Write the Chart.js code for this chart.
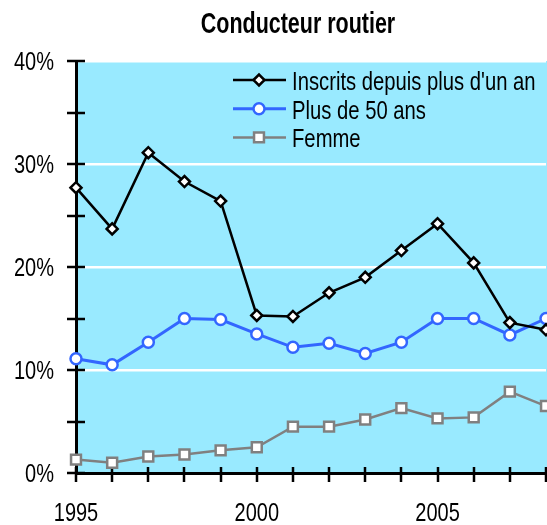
<!DOCTYPE html>
<html>
<head>
<meta charset="utf-8">
<script src="https://cdn.jsdelivr.net/npm/chart.js@4/dist/chart.umd.min.js"></script>
<style>
  html, body { margin: 0; padding: 0; background: #fff; overflow: hidden; }
  #wrap { width: 547px; height: 525px; }
</style>
</head>
<body>
<div id="wrap"><canvas id="graphique"></canvas></div>
<script>
// ---- données ----
const annees = [1995, 1996, 1997, 1998, 1999, 2000, 2001, 2002, 2003, 2004, 2005, 2006, 2007, 2008];
const inscrits = [27.7, 23.7, 31.1, 28.3, 26.4, 15.3, 15.2, 17.5, 19.0, 21.6, 24.2, 20.4, 14.6, 13.9];
const plus50 = [11.1, 10.5, 12.7, 15.0, 14.9, 13.5, 12.2, 12.6, 11.6, 12.7, 15.0, 15.0, 13.4, 15.0];
const femme = [1.3, 1.0, 1.6, 1.8, 2.2, 2.5, 4.5, 4.5, 5.2, 6.3, 5.3, 5.4, 7.9, 6.5];
const series = ["Inscrits depuis plus d'un an", "Plus de 50 ans", "Femme"];
const titre = "Conducteur routier";
const yMin = 0, yMax = 40, yPas = 5;

// police étroite : Liberation Sans compressée horizontalement
const POLICE = "'Liberation Sans', Arial, sans-serif";
const FOND = "#99eaff";

const etiquetteX = v => (v % 5 === 0 ? String(v) : "");
const etiquetteY = v => (v % 10 === 0 ? v + "%" : "");

function pts(valeurs) {
  return annees.map((a, i) => ({ x: a, y: valeurs[i] }));
}

function texte(ctx, str, x, y, align, font, sx) {
  ctx.save();
  ctx.translate(x, y);
  ctx.scale(sx, 1);
  ctx.font = font;
  ctx.textAlign = align;
  ctx.textBaseline = "alphabetic";
  ctx.fillText(str, 0, 0);
  ctx.restore();
}

// fond bleu de la zone de tracé
const fondPlugin = {
  id: "fond",
  beforeDraw(chart) {
    const { ctx, chartArea: a } = chart;
    ctx.save();
    ctx.fillStyle = FOND;
    ctx.fillRect(a.left, a.top, a.right - a.left + 2, a.bottom - a.top);
    ctx.restore();
  }
};

// graduations qui traversent les axes + étiquettes
const tiretsPlugin = {
  id: "tirets",
  beforeDatasetsDraw(chart) {
    const { ctx, scales } = chart;
    const x = scales.x, y = scales.y;
    ctx.save();
    ctx.strokeStyle = "#000";
    ctx.lineWidth = 2.5;
    ctx.beginPath();
    y.ticks.forEach(t => {
      const py = Math.round(y.getPixelForValue(t.value));
      ctx.moveTo(x.left - 9, py);
      ctx.lineTo(x.left + 9, py);
    });
    x.ticks.forEach(t => {
      const px = Math.round(x.getPixelForValue(t.value));
      ctx.moveTo(px, y.bottom - 6);
      ctx.lineTo(px, y.bottom + 9);
    });
    ctx.stroke();

    ctx.fillStyle = "#000";
    const f = "25px " + POLICE;
    y.ticks.forEach(t => {
      const s = etiquetteY(t.value);
      if (s) texte(ctx, s, x.left - 22, y.getPixelForValue(t.value) + 9, "right", f, 0.8);
    });
    x.ticks.forEach(t => {
      const s = etiquetteX(t.value);
      if (s) texte(ctx, s, x.getPixelForValue(t.value), y.bottom + 48, "center", f, 0.8);
    });
    ctx.restore();
  }
};

// titre et légende
const textesPlugin = {
  id: "textes",
  afterDraw(chart) {
    const { ctx } = chart;
    ctx.save();
    ctx.fillStyle = "#000";
    texte(ctx, titre, 298, 33, "center", "bold 29px " + POLICE, 0.74);

    chart.data.datasets.forEach((ds, i) => {
      const yy = 80 + i * 28.7;
      ctx.strokeStyle = ds.borderColor;
      ctx.lineWidth = ds.borderWidth;
      ctx.beginPath();
      ctx.moveTo(233, yy);
      ctx.lineTo(286, yy);
      ctx.stroke();
      ctx.fillStyle = ds.pointBackgroundColor;
      ctx.strokeStyle = ds.pointBorderColor;
      ctx.lineWidth = ds.pointBorderWidth;
      Chart.helpers.drawPoint(ctx, {
        pointStyle: ds.pointStyle,
        radius: ds.pointRadius,
        rotation: 0,
        borderWidth: ds.pointBorderWidth
      }, 259, yy);
      ctx.fillStyle = "#000";
      texte(ctx, ds.label, 292, yy + 10, "left", "25px " + POLICE, 0.81);
    });
    ctx.restore();
  }
};

function serie(label, valeurs, couleur, style, rayon, epaisseur) {
  return {
    label: label,
    data: pts(valeurs),
    borderColor: couleur,
    borderWidth: epaisseur,
    pointStyle: style,
    pointRadius: rayon,
    pointBackgroundColor: "#fff",
    pointBorderColor: couleur,
    pointBorderWidth: 2.5,
    tension: 0,
    clip: false
  };
}

new Chart(document.getElementById("graphique"), {
  type: "line",
  data: {
    datasets: [
      serie(series[0], inscrits, "#000000", "rectRot", 5.5, 2.5),
      serie(series[1], plus50, "#3366ff", "circle", 5.5, 3),
      serie(series[2], femme, "#808080", "rect", 7, 2.5)
    ]
  },
  options: {
    responsive: true,
    maintainAspectRatio: false,
    animation: false,
    layout: { autoPadding: false, padding: { top: 61, right: 1, left: 0, bottom: 0 } },
    plugins: {
      legend: { display: false },
      title: { display: false },
      tooltip: { enabled: false }
    },
    scales: {
      x: {
        type: "linear",
        min: annees[0],
        max: annees[annees.length - 1],
        afterFit(s) { s.height = 52; s.paddingLeft = 0; s.paddingRight = 0; },
        afterBuildTicks(s) {
          s.ticks = annees.map(a => ({ value: a }));
        },
        ticks: { display: false, autoSkip: false },
        grid: { display: true, color: "transparent", drawTicks: false },
        border: { display: true, color: "#000", width: 3 }
      },
      y: {
        min: yMin,
        max: yMax,
        afterFit(s) { s.width = 76; s.paddingTop = 0; s.paddingBottom = 0; },
        ticks: { display: false, stepSize: yPas },
        grid: {
          drawTicks: false,
          lineWidth: 2.5,
          color: c => (c.tick && c.tick.value % 10 === 0 ? "#fff" : "transparent")
        },
        border: { display: true, color: "#000", width: 3 }
      }
    }
  },
  plugins: [fondPlugin, tiretsPlugin, textesPlugin]
});
</script>
</body>
</html>
